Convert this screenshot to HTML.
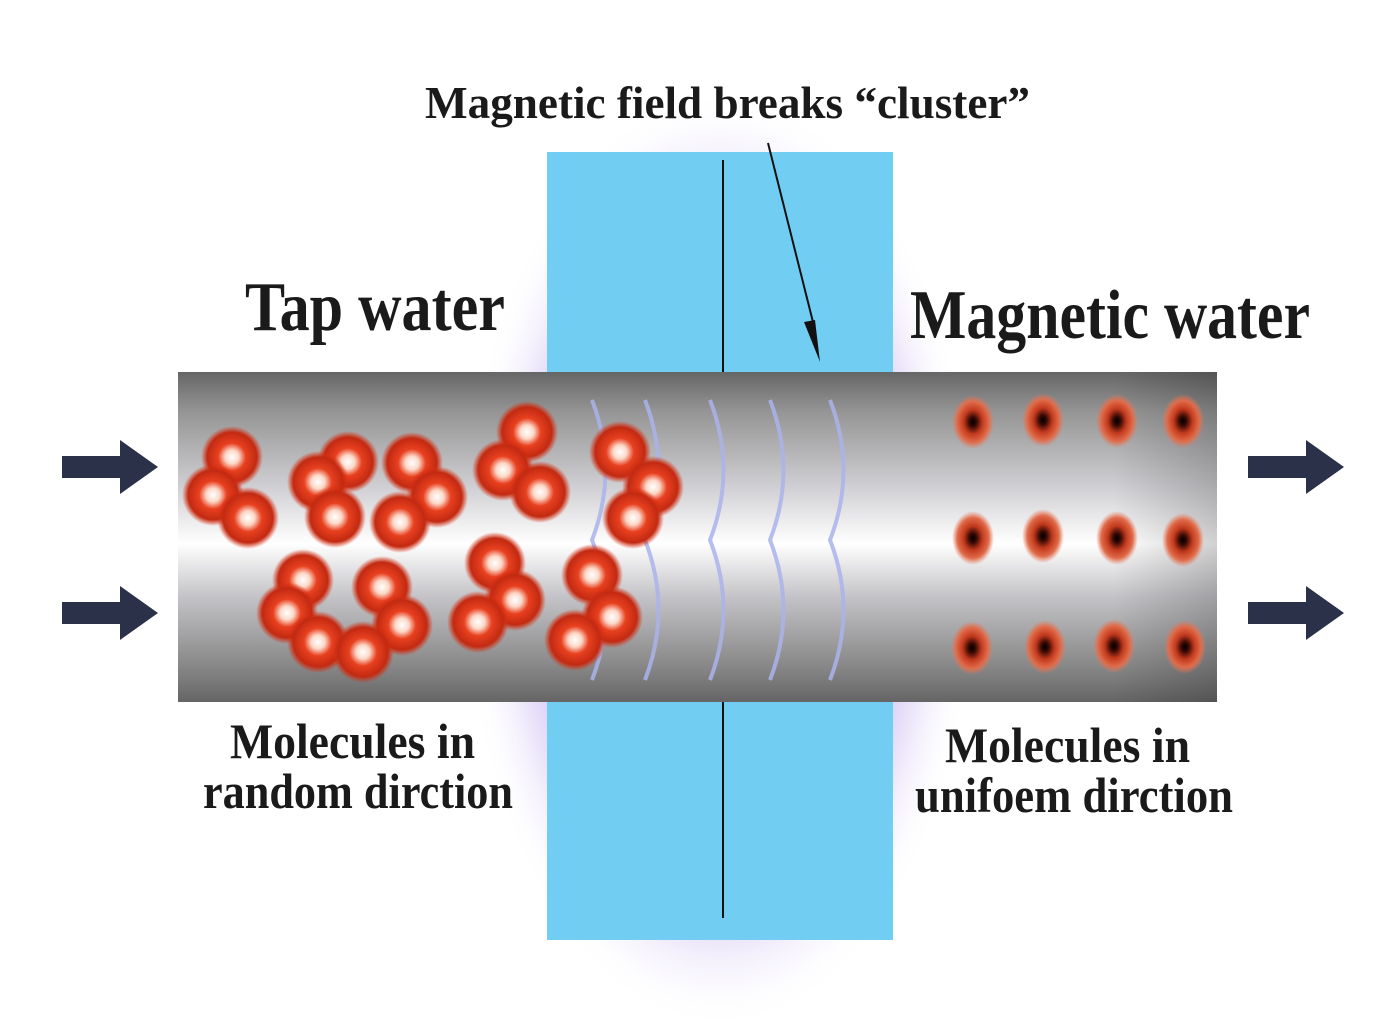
<!DOCTYPE html>
<html><head><meta charset="utf-8"><style>html,body{margin:0;padding:0;background:#fff}svg{display:block}</style></head>
<body>
<svg width="1400" height="1030" viewBox="0 0 1400 1030" xmlns="http://www.w3.org/2000/svg">
<defs>
<linearGradient id="pipe" x1="0" y1="0" x2="0" y2="1">
<stop offset="0" stop-color="#666"/><stop offset="0.12" stop-color="#959595"/><stop offset="0.35" stop-color="#d0d0d4"/><stop offset="0.52" stop-color="#ffffff"/><stop offset="0.68" stop-color="#c4c4c8"/><stop offset="0.9" stop-color="#858585"/><stop offset="1" stop-color="#656565"/>
</linearGradient>
<linearGradient id="pipeR" x1="0" y1="0" x2="1" y2="0">
<stop offset="0" stop-color="#000" stop-opacity="0"/><stop offset="0.9" stop-color="#000" stop-opacity="0"/><stop offset="1" stop-color="#000" stop-opacity="0.18"/>
</linearGradient>
<radialGradient id="atom"><stop offset="0" stop-color="#fff"/><stop offset="0.22" stop-color="#fcd8c8"/><stop offset="0.45" stop-color="#e8401f"/><stop offset="0.8" stop-color="#c22a12"/><stop offset="1" stop-color="#e03010" stop-opacity="0"/></radialGradient>
<radialGradient id="dot"><stop offset="0" stop-color="#000"/><stop offset="0.18" stop-color="#3a0a04"/><stop offset="0.45" stop-color="#c23a1e"/><stop offset="0.75" stop-color="#e06a48"/><stop offset="1" stop-color="#e8785a" stop-opacity="0"/></radialGradient>
<radialGradient id="glow" cx="0.5" cy="0.5" r="0.5"><stop offset="0.6" stop-color="#b9a6ee" stop-opacity="0.95"/><stop offset="0.8" stop-color="#ddd2f6" stop-opacity="0.6"/><stop offset="1" stop-color="#fff" stop-opacity="0"/></radialGradient>
</defs>
<ellipse cx="720" cy="560" rx="260" ry="470" fill="url(#glow)"/>
<rect x="547" y="152" width="346" height="788" fill="#72cdf3"/>
<rect x="178" y="372" width="1039" height="330" fill="url(#pipe)"/>
<rect x="178" y="372" width="1039" height="330" fill="url(#pipeR)"/>
<g fill="none" stroke="#aab4ec" stroke-width="4" opacity="0.85">
<path d="M592 400 Q619 470 592 540 Q619 610 592 680"/>
<path d="M645 400 Q672 470 645 540 Q672 610 645 680"/>
<path d="M710 400 Q737 470 710 540 Q737 610 710 680"/>
<path d="M770 400 Q797 470 770 540 Q797 610 770 680"/>
<path d="M830 400 Q857 470 830 540 Q857 610 830 680"/>
</g>
<g fill="url(#atom)">
<circle cx="232" cy="457" r="31"/><circle cx="213" cy="495" r="31"/><circle cx="248" cy="518" r="31"/>
<circle cx="348" cy="462" r="31"/><circle cx="318" cy="482" r="31"/><circle cx="335" cy="517" r="31"/>
<circle cx="412" cy="463" r="31"/><circle cx="437" cy="497" r="31"/><circle cx="400" cy="522" r="31"/>
<circle cx="527" cy="432" r="31"/><circle cx="503" cy="470" r="31"/><circle cx="540" cy="492" r="31"/>
<circle cx="620" cy="452" r="31"/><circle cx="653" cy="487" r="31"/><circle cx="633" cy="518" r="31"/>
<circle cx="303" cy="580" r="31"/><circle cx="287" cy="613" r="31"/><circle cx="318" cy="642" r="31"/>
<circle cx="382" cy="587" r="31"/><circle cx="402" cy="625" r="31"/><circle cx="363" cy="652" r="31"/>
<circle cx="495" cy="563" r="31"/><circle cx="515" cy="600" r="31"/><circle cx="478" cy="622" r="31"/>
<circle cx="592" cy="575" r="31"/><circle cx="612" cy="617" r="31"/><circle cx="575" cy="640" r="31"/>
</g>
<g fill="url(#dot)">
<ellipse cx="973" cy="422" rx="21" ry="27"/><ellipse cx="1043" cy="420" rx="21" ry="27"/><ellipse cx="1117" cy="421" rx="21" ry="27"/><ellipse cx="1183" cy="421" rx="21" ry="27"/>
<ellipse cx="973" cy="538" rx="21" ry="27"/><ellipse cx="1043" cy="536" rx="21" ry="27"/><ellipse cx="1117" cy="538" rx="21" ry="27"/><ellipse cx="1183" cy="540" rx="21" ry="27"/>
<ellipse cx="972" cy="648" rx="21" ry="27"/><ellipse cx="1045" cy="647" rx="21" ry="27"/><ellipse cx="1114" cy="646" rx="21" ry="27"/><ellipse cx="1185" cy="647" rx="21" ry="27"/>
</g>
<line x1="723" y1="160" x2="723" y2="372" stroke="#111" stroke-width="2"/>
<line x1="723" y1="702" x2="723" y2="918" stroke="#111" stroke-width="2"/>
<line x1="768" y1="143" x2="815" y2="330" stroke="#111" stroke-width="2"/>
<polygon points="820,362 804,322 815,320" fill="#111"/>
<g fill="#2a3148">
<path d="M62 456 H120 V440 L158 467 L120 494 V478 H62Z"/>
<path d="M62 602 H120 V586 L158 613 L120 640 V624 H62Z"/>
<path d="M1248 456 H1306 V440 L1344 467 L1306 494 V478 H1248Z"/>
<path d="M1248 602 H1306 V586 L1344 613 L1306 640 V624 H1248Z"/>
</g>
<g font-family="Liberation Serif, serif" fill="#1a1a1a" font-weight="bold">
<text x="425" y="118" font-size="46" textLength="605" lengthAdjust="spacingAndGlyphs">Magnetic field breaks “cluster”</text>
<text x="245" y="330" font-size="70" textLength="260" lengthAdjust="spacingAndGlyphs">Tap water</text>
<text x="910" y="338" font-size="70" textLength="400" lengthAdjust="spacingAndGlyphs">Magnetic water</text>
<text x="230" y="758" font-size="50" textLength="245" lengthAdjust="spacingAndGlyphs">Molecules in</text>
<text x="203" y="808" font-size="50" textLength="310" lengthAdjust="spacingAndGlyphs">random dirction</text>
<text x="945" y="762" font-size="50" textLength="245" lengthAdjust="spacingAndGlyphs">Molecules in</text>
<text x="915" y="812" font-size="50" textLength="318" lengthAdjust="spacingAndGlyphs">unifoem dirction</text>
</g>
</svg>
</body></html>
